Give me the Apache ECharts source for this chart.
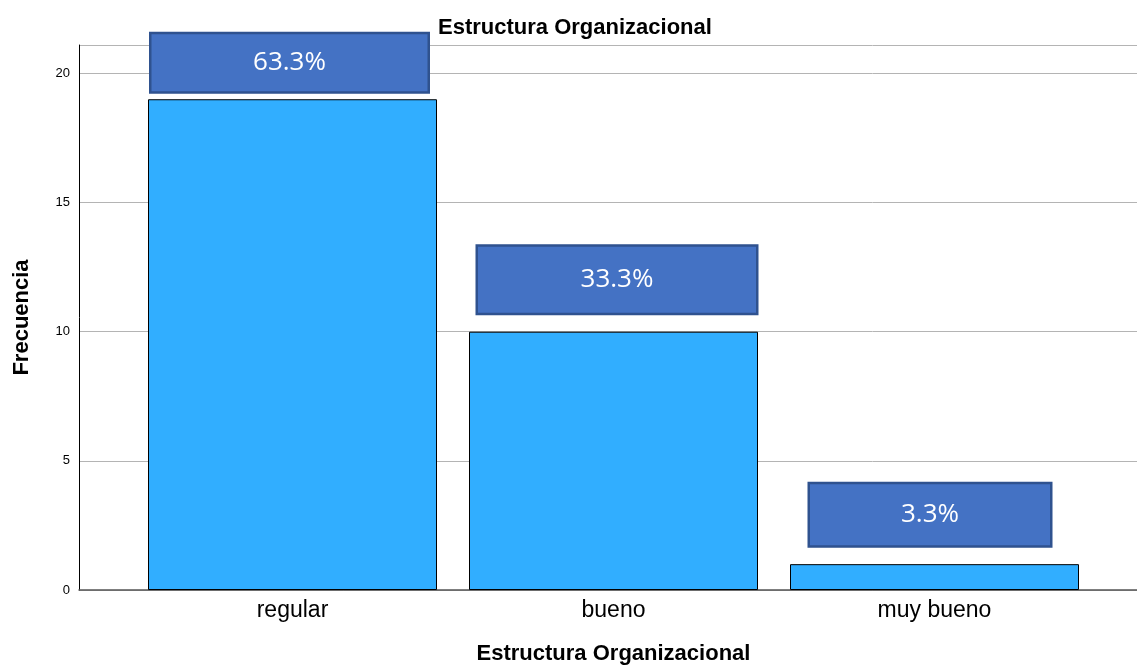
<!DOCTYPE html>
<html>
<head>
<meta charset="utf-8">
<script src="https://cdn.jsdelivr.net/npm/echarts@6/dist/echarts.min.js"></script>
<style>
  html, body { margin: 0; padding: 0; background: #fff; }
  #chart { width: 1137px; height: 666px; }
</style>
</head>
<body>
<div id="chart"></div>
<script>
const categories = ['regular', 'bueno', 'muy bueno'];
const counts = [19, 10, 1];
const percentLabels = ['63.3%', '33.3%', '3.3%'];

// label box look per bar (the boxes in the original are slightly uneven)
const boxWidths = [276, 278, 240];
const boxHeights = [57, 66, 61];
const boxGaps = [8, 19, 19];
const boxShift = [-3, 3.5, -4.5];

const yMax = 21.1;
const font = '"Liberation Sans", Arial, sans-serif';

const barData = counts.map((v, i) => ({
  value: v,
  label: {
    show: true,
    position: 'top',
    distance: boxGaps[i],
    offset: [boxShift[i], 0],
    formatter: percentLabels[i],
    width: boxWidths[i],
    height: boxHeights[i],
    lineHeight: boxHeights[i],
    align: 'center',
    color: '#fff',
    fontSize: 26,
    fontFamily: '"Open Sans", "Noto Sans", sans-serif',
    backgroundColor: '#4472C4',
    borderColor: '#2F528F',
    borderWidth: 2.5
  }
}));

const chart = echarts.init(document.getElementById('chart'));
chart.setOption({
  animation: false,
  title: {
    text: 'Estructura Organizacional',
    left: 433,
    top: 12,
    textStyle: { fontFamily: font, fontSize: 22, fontWeight: 'bold', color: '#000' }
  },
  grid: [
    { left: 79, right: 0, top: 45, bottom: 76, outerBoundsMode: 'none' },
    { left: 132, right: 42, top: 45, bottom: 76, outerBoundsMode: 'none' }
  ],
  xAxis: [
    {
      gridIndex: 0,
      type: 'category',
      data: [''],
      axisLine: { show: true, lineStyle: { color: '#555', width: 1.5 } },
      axisTick: { show: false },
      axisLabel: { show: false }
    },
    {
      gridIndex: 1,
      type: 'category',
      data: categories,
      axisLine: { show: false },
      axisTick: { show: false },
      axisLabel: { fontFamily: font, fontSize: 23, color: '#000', margin: 9 },
      name: 'Estructura Organizacional',
      nameLocation: 'middle',
      nameGap: 53,
      nameTextStyle: { fontFamily: font, fontSize: 22, fontWeight: 'bold', color: '#000' }
    }
  ],
  yAxis: [
    {
      gridIndex: 0,
      type: 'value',
      min: 0,
      max: yMax,
      interval: 5,
      axisLine: { show: true, lineStyle: { color: '#000', width: 1 } },
      axisTick: { show: false },
      axisLabel: {
        fontFamily: font, fontSize: 13, color: '#000', margin: 9,
        showMaxLabel: false
      },
      splitLine: { show: true, lineStyle: { color: '#b4b4b4', width: 1 } },
      name: 'Frecuencia',
      nameLocation: 'middle',
      nameGap: 46,
      nameTextStyle: { fontFamily: font, fontSize: 22, fontWeight: 'bold', color: '#000' }
    },
    {
      gridIndex: 1,
      type: 'value',
      min: 0,
      max: yMax,
      show: false
    }
  ],
  series: [
    {
      type: 'bar',
      xAxisIndex: 1,
      yAxisIndex: 1,
      data: barData,
      barWidth: 289,
      itemStyle: { color: '#31AEFF', borderColor: '#000', borderWidth: 1 }
    }
  ]
});
</script>
</body>
</html>
